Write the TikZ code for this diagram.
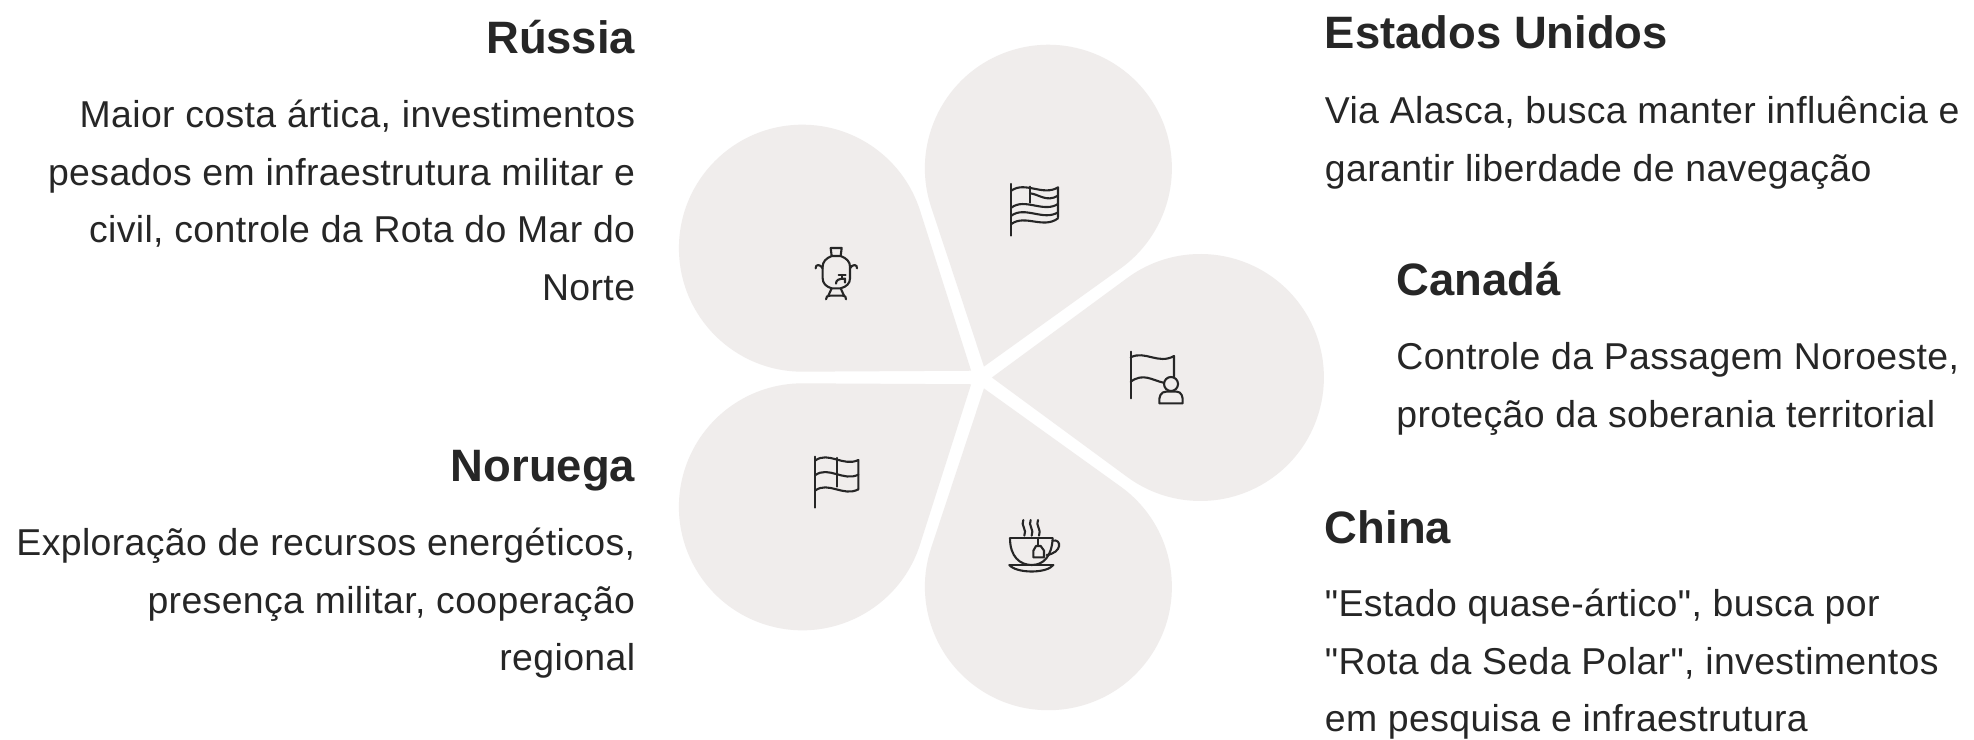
\documentclass[tikz,border=0pt]{standalone}
\usepackage{fontspec}
\setmainfont[Ligatures=TeXOff,LetterSpace=1.0,BoldFeatures={LetterSpace=0}]{Liberation Sans}
\definecolor{petal}{HTML}{F0EDEC}
\definecolor{ink}{HTML}{262626}
\newcommand{\bodyfont}{\fontsize{18.7}{28.8}\selectfont}
\newcommand{\headfont}{\fontsize{22.7}{26}\selectfont\bfseries}
\tikzset{
  x=.5pt,y=.5pt,
  petalshape/.style={fill=petal,draw=none},
  icon/.style={draw=ink,line width=1.05pt,line cap=round,line join=round,x=.16667pt,y=-.16667pt},
  bodyR/.style={inner sep=0,anchor=north east,align=right,text=ink,font=\bodyfont},
  bodyL/.style={inner sep=0,anchor=north west,align=left,text=ink,font=\bodyfont},
  headR/.style={inner sep=0,anchor=base east,text=ink,font=\headfont},
  headL/.style={inner sep=0,anchor=base west,text=ink,font=\headfont},
}
\newcommand{\petalat}[1]{%
  \fill[petalshape,shift={(980.4,361.5)},rotate=#1]
    (11.5,0) -- (220+123.5*cos 126.3,123.5*sin 126.3)
    arc[start angle=126.3,end angle=-126.3,radius=61.75pt] -- cycle;}
\begin{document}
\begin{tikzpicture}
\useasboundingbox (0,0) rectangle (1974,739);
\fill[white] (0,0) rectangle (1974,739);
\foreach \a in {0,72,144,216,288}{\petalat{\a}}

% samovar
\begin{scope}[shift={(790,579)},icon]
\draw (125,288) -- (122,264) -- (155,264) -- (152,288);
\draw (125,288) .. controls (108,295) and (98,305) .. (98,320) -- (98,355) .. controls (98,370) and (108,380) .. (125,385) -- (152,385) .. controls (170,380) and (180,370) .. (180,355) -- (180,320) .. controls (180,305) and (170,295) .. (152,288) -- cycle;
\draw (98,325) .. controls (92,312) and (75,312) .. (77,325);
\draw (180,325) .. controls (186,312) and (203,312) .. (201,325);
\draw (125,385) -- (115,407);
\draw (152,385) -- (162,407);
\draw (108,418) .. controls (108,410) and (112,407) .. (120,407) -- (158,407) .. controls (166,407) and (168,410) .. (168,418);
\draw (138,371) .. controls (138,360) and (145,356) .. (165,356) -- (165,368);
\draw (146,345) -- (167,345);
\draw (156,345) -- (156,356);
\end{scope}

% flag USA
\begin{scope}[shift={(790,579)},icon]
\draw (664,72) -- (664,227);
\draw (664,92) .. controls (705,62) and (760,110) .. (804,82) -- (804,172);
\draw (720,100) .. controls (745,102) and (770,128) .. (804,107);
\draw (664,143) .. controls (705,112) and (760,160) .. (804,132);
\draw (664,167) .. controls (705,137) and (760,184) .. (804,157);
\draw (664,192) .. controls (705,162) and (760,208) .. (804,175);
\draw (720,80) -- (720,128);
\end{scope}

% flag with person
\begin{scope}[shift={(790,409)},icon]
\draw (1022,65) -- (1022,205);
\draw (1022,82) .. controls (1065,60) and (1105,105) .. (1152,78) -- (1152,140);
\draw (1022,155) .. controls (1060,128) and (1085,150) .. (1120,158);
\draw (1143,162) circle[radius=21];
\draw (1108,220) .. controls (1106,200) and (1112,185) .. (1128,185) -- (1160,185) .. controls (1174,185) and (1180,200) .. (1178,220) -- cycle;
\end{scope}

% flag Norway
\begin{scope}[shift={(790,409)},icon]
\draw (75,380) -- (75,533);
\draw (75,392) .. controls (115,362) and (160,412) .. (205,390) -- (205,478);
\draw (75,436) .. controls (115,406) and (160,456) .. (205,434);
\draw (75,482) .. controls (115,452) and (160,502) .. (205,478);
\draw (140,384) -- (140,470);
\end{scope}

% tea cup
\begin{scope}[shift={(790,409)},icon]
\draw (660,625) -- (788,625);
\draw (660,625) .. controls (660,680) and (690,705) .. (725,705) .. controls (760,705) and (785,680) .. (788,625);
\draw (788,632) .. controls (815,625) and (818,668) .. (770,675);
\draw (658,705) -- (790,705);
\draw (658,705) .. controls (680,731) and (770,731) .. (790,705);
\foreach \sx in {703,725,747}{
  \draw (\sx-3,570) .. controls (\sx-12,585) and (\sx+9,600) .. (\sx,617);}
\draw (745,625) -- (745,647);
\draw (730,662) -- (738,648) -- (752,648) -- (762,662) -- (762,682) -- (730,682) -- cycle;
\end{scope}

\node[headR] (rh) at (635.5,685) {Rússia};
\node[bodyR] (rb) at (635.5,652) {\strut Maior costa ártica, investimentos\\pesados em infraestrutura militar e\\civil, controle da Rota do Mar do\\Norte};
\node[headR] (nh) at (635.5,257) {Noruega};
\node[bodyR] (nb) at (635.5,224) {\strut Exploração de recursos energéticos,\\presença militar, cooperação\\regional};
\node[headL] (eh) at (1324.5,690) {Estados Unidos};
\node[bodyL] (eb) at (1324.5,656) {\strut Via Alasca, busca manter influência e\\garantir liberdade de navegação};
\node[headL] (ch) at (1396,443) {Canadá};
\node[bodyL] (cb) at (1396,410) {\strut Controle da Passagem Noroeste,\\proteção da soberania territorial};
\node[headL] (zh) at (1324.5,196) {China};
\node[bodyL] (zb) at (1324.5,163) {\strut "Estado quase-ártico", busca por\\"Rota da Seda Polar", investimentos\\em pesquisa e infraestrutura};
\end{tikzpicture}
\end{document}
